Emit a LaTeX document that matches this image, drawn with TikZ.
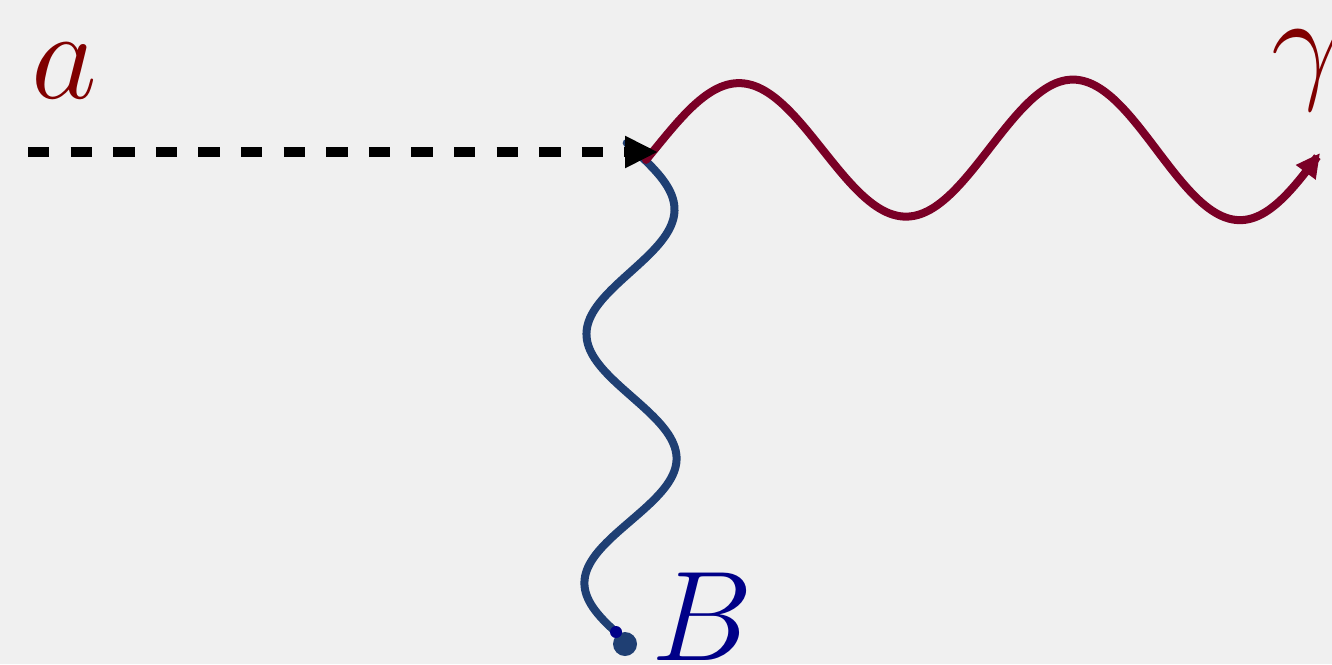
\RequirePackage{fix-cm}
\documentclass[tikz,border=0pt]{standalone}
\usetikzlibrary{arrows.meta}
\definecolor{bgcol}{HTML}{F0F0F0}
\definecolor{photonred}{HTML}{7A0026}
\definecolor{labelred}{HTML}{800000}
\definecolor{wiggleblue}{HTML}{1F3F73}
\definecolor{labelblue}{HTML}{000088}
\begin{document}
\begin{tikzpicture}[
  x=0.5pt, y=-0.5pt,
  lbl/.style={inner sep=0pt, anchor=base, font=\fontsize{64}{70}\selectfont},
  scalar/.style={line width=5pt, dash pattern=on 10.65pt off 10.65pt,
    -{Triangle[length=16.5pt, width=15pt]}},
  % both wavy legs are sine plots, drawn relative to their start coordinate
  photon/.style={photonred, line width=4pt, line cap=round,
    -{Triangle[length=12pt, width=11.5pt]}},
  wiggle/.style={wiggleblue, line width=4pt, line cap=round}
]
\fill[bgcol] (0,0) rectangle (1332,664);
\useasboundingbox (0,0) rectangle (1332,664);
\coordinate (ain) at (28,152);
\coordinate (vtx) at (658,152);
\coordinate (gstart) at (655,149);
\coordinate (wtop) at (631,147);
\coordinate (bend) at (616,632);
\draw[wiggle, shift={(wtop)}] plot[domain=-4:485, samples=160, smooth]
  ({(43+4*\x/485)*sin(\x/249*360)}, \x);
\draw[photon, shift={(gstart)}] plot[domain=-9:665, samples=200, smooth]
  (\x, {-(65+7*\x/665)*sin(\x/334*360)});
\draw[scalar] (ain) -- (vtx);
\fill[wiggleblue] (625,644) circle (6pt);
\fill[labelblue] (bend) circle (3pt);
\node[lbl, labelred] (alab) at (64,98) {$a$};
\node[lbl, labelred] (glab) at (1307,85) {$\gamma$};
\node[lbl, labelblue] (blab) at (702,660) {$B$};
\end{tikzpicture}
\end{document}
